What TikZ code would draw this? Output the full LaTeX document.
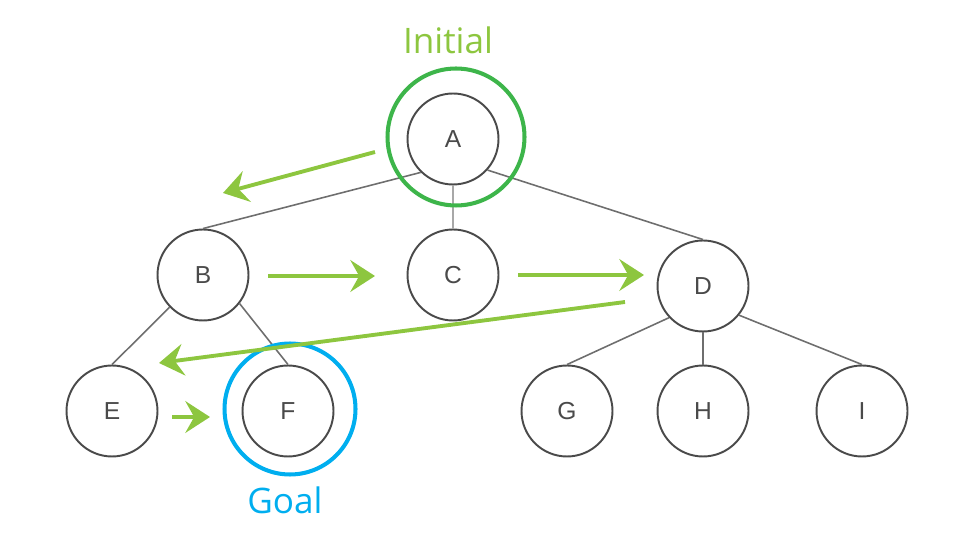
\documentclass[tikz,border=0pt]{standalone}
\usepackage{fontspec}
\setmainfont{Liberation Sans}
\newfontfamily\tagfont{Open Sans}
\usepackage{tikz}
\usetikzlibrary{arrows.meta}

\definecolor{nodegray}{HTML}{4A4A4A}
\definecolor{edgegray}{HTML}{6E6E6E}
\definecolor{movegreen}{HTML}{8DC63F}
\definecolor{initgreen}{HTML}{3DB54A}
\definecolor{goalblue}{HTML}{00AEEF}

\begin{document}
\begin{tikzpicture}[x=0.02cm, y=-0.02cm,
    vertex/.style={draw=nodegray, circle, line width=1.1pt, minimum size=1.82cm, inner sep=0pt,
      text=nodegray, font=\fontsize{14}{16}\selectfont},
    edge/.style={draw=edgegray, line width=0.9pt},
    move/.style={draw=movegreen, line width=2.2pt, -{Stealth[length=14pt, width=18pt, inset=5pt]}},
    ring/.style={draw, circle, line width=2.3pt, inner sep=0pt}]
        \def \top {139}
        \def \mid {275}
        \def \low {411}

        \useasboundingbox (0,0) rectangle (969,546);

        \node[vertex] at (453,\top) (A) {A};
        \node[vertex] at (203,\mid) (B) {B};
        \node[vertex] at (453,\mid) (C) {C};
        \node[vertex] at (703,286) (D) {D};
        \foreach \name/\x in {E/112, F/288, G/567, H/703, I/862}{
          \node[vertex] at (\x,\low) (\name) {\name};
        }

        % tree edges
        \draw[edge] (A.226) -- (B.north);
        \draw[edge, draw=edgegray!60, line width=1.5pt] (A.south) -- (C.north);
        \draw[edge] (A.-42) -- (D.north);
        \draw[edge] (B.224) -- (E.north);
        \draw[edge] (B.-38) -- (F.north);
        \draw[edge] (D.223) -- (G.north);
        \draw[edge] (D.south) -- (H.north);
        \draw[edge] (D.-39) -- (I.north);

        % start and goal
        \node[ring, draw=initgreen, minimum size=2.74cm] at (456,137) (init) {};
        \node[ring, draw=goalblue, minimum size=2.62cm] at (290,409) (goal) {};
        \node[anchor=base, text=movegreen, font=\tagfont\fontsize{20}{24}\selectfont] at (448,54) (initlabel) {Initial};
        \node[anchor=base, text=goalblue, font=\tagfont\fontsize{20}{24}\selectfont] at (285,513) (goallabel) {Goal};

        % search order
        \coordinate (s1) at (375,152); \coordinate (e1) at (223,193);
        \coordinate (s2) at (268,276); \coordinate (e2) at (375,276);
        \coordinate (s3) at (518,275); \coordinate (e3) at (644,275);
        \coordinate (s4) at (625,302); \coordinate (e4) at (159,363);
        \coordinate (s5) at (172,417); \coordinate (e5) at (210,417);
        \foreach \i in {1,...,5}{
          \draw[move] (s\i) -- (e\i);
        }
\end{tikzpicture}
\end{document}
